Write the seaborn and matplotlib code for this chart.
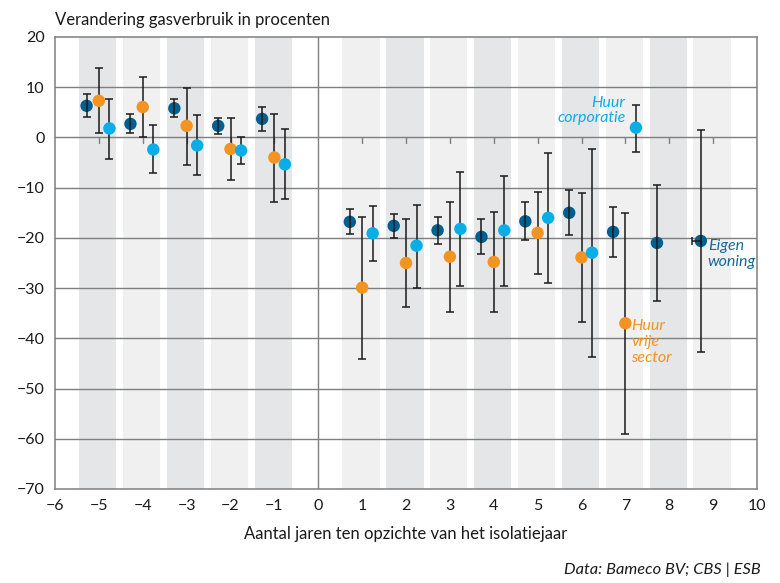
import matplotlib
matplotlib.use("Agg")
import matplotlib.pyplot as plt
import seaborn as sns
import pandas as pd

# years relative to the insulation year
years_eig = [-5, -4, -3, -2, -1, 1, 2, 3, 4, 5, 6, 7, 8, 9]
years_rent = [-5, -4, -3, -2, -1, 1, 2, 3, 4, 5, 6, 7]

# Eigen woning
eig_y = [6.3, 2.7, 5.8, 2.3, 3.7, -16.8, -17.6, -18.5, -19.8, -16.7, -15.0, -18.8, -21.0, -20.6]
eig_lo = [4.0, 0.8, 4.0, 0.6, 1.3, -19.2, -19.95, -21.2, -23.2, -20.5, -19.4, -23.8, -32.6, -42.8]
eig_hi = [8.65, 4.6, 7.65, 3.8, 6.1, -14.25, -15.2, -15.8, -16.3, -12.8, -10.5, -13.8, -9.4, 1.5]

# Huur vrije sector
vrij_y = [7.3, 6.05, 2.3, -2.3, -4.0, -29.9, -25.0, -23.75, -24.8, -19.0, -23.9, -37.0]
vrij_lo = [0.8, 0.15, -5.5, -8.5, -12.9, -44.05, -33.8, -34.7, -34.8, -27.1, -36.8, -59.1]
vrij_hi = [13.8, 12.0, 9.9, 3.9, 4.7, -15.85, -16.2, -12.8, -14.8, -10.8, -11.1, -15.0]

# Huur corporatie
corp_y = [1.8, -2.4, -1.6, -2.6, -5.35, -19.1, -21.55, -18.2, -18.5, -16.0, -22.95, 1.95]
corp_lo = [-4.2, -7.15, -7.5, -5.2, -12.3, -24.6, -29.9, -29.5, -29.5, -29.0, -43.7, -2.9]
corp_hi = [7.65, 2.5, 4.4, 0.15, 1.6, -13.65, -13.4, -6.9, -7.6, -3.0, -2.4, 6.5]

C_EIG = '#005f8f'
C_VRIJ = '#f39320'
C_CORP = '#0aaee6'
GRID = '#7f7f7f'

sns.set_style('white')
plt.rcParams['font.family'] = ['Lato', 'DejaVu Sans']

rows = []
for name, xs, ys, lo, hi, off in [
    ('Eigen woning', years_eig, eig_y, eig_lo, eig_hi, -0.28),
    ('Huur vrije sector', years_rent, vrij_y, vrij_lo, vrij_hi, 0.0),
    ('Huur corporatie', years_rent, corp_y, corp_lo, corp_hi, 0.24),
]:
    for x, y, l, h in zip(xs, ys, lo, hi):
        rows.append({'groep': name, 'x': x + off, 'y': y, 'lo': l, 'hi': h})
df = pd.DataFrame(rows)

fig = plt.figure(figsize=(7.8, 5.83), dpi=100)
ax = fig.add_axes([55 / 780, 1 - 489 / 583, 702 / 780, 452 / 583])

# alternating background bands per year
for k in list(range(-5, 0)) + list(range(1, 10)):
    dark = (k < 0 and k % 2 == 1) or (k > 0 and k % 2 == 0)
    ax.axvspan(k - 0.45, k + 0.40, color='#e5e6e8' if dark else '#f0f0f0', lw=0, zorder=0)

for v in range(-60, 20, 10):
    ax.axhline(v, color=GRID, lw=1, zorder=1)
ax.axvline(0, color=GRID, lw=1, zorder=1)
# small ticks under the zero line
for k in list(range(-5, 0)) + list(range(1, 10)):
    ax.plot([k, k], [0, -1.1], color=GRID, lw=1, zorder=1)

palette = {'Eigen woning': C_EIG, 'Huur vrije sector': C_VRIJ, 'Huur corporatie': C_CORP}
for name, grp in df.groupby('groep'):
    ax.errorbar(grp['x'], grp['y'], yerr=[grp['y'] - grp['lo'], grp['hi'] - grp['y']],
                fmt='none', ecolor='#1a1a1a', elinewidth=1.1, capsize=3, capthick=1.1,
                zorder=4 if name == 'Eigen woning' else 2)
sns.scatterplot(data=df, x='x', y='y', hue='groep', palette=palette, s=80,
                edgecolor='none', linewidth=0, legend=False, ax=ax, zorder=3)

# odd horizontal whisker at year 9
ax.errorbar([9 - 0.28], [-20.6], xerr=[[0.21], [0]], fmt='none', ecolor='#1a1a1a',
            elinewidth=1.1, capsize=3, capthick=1.1, zorder=4)

ax.set_xlim(-6, 10)
ax.set_ylim(-70, 20)
ax.set_xticks(range(-6, 11))
ax.set_yticks(range(-70, 21, 10))
ax.tick_params(axis='both', direction='out', length=4.5, width=1, color=GRID,
               labelsize=11.5, pad=3, labelcolor='#1a1a1a')
for s in ax.spines.values():
    s.set_color(GRID)
    s.set_linewidth(1.1)
ax.set_xlabel('Aantal jaren ten opzichte van het isolatiejaar', fontsize=12, color='#1a1a1a', labelpad=9)
ax.set_ylabel('')

ax.text(7.0, 2.4, 'Huur\ncorporatie', color=C_CORP, style='italic', fontsize=11.5,
        ha='right', va='bottom', linespacing=1.15)
ax.text(8.88, -20.3, 'Eigen\nwoning', color='#1a6a98', style='italic', fontsize=11.5,
        ha='left', va='top', linespacing=1.15)
ax.text(7.13, -36.2, 'Huur\nvrije\nsector', color=C_VRIJ, style='italic', fontsize=11.5,
        ha='left', va='top', linespacing=1.15)

fig.text(55 / 780, 1 - 20 / 583, 'Verandering gasverbruik in procenten', fontsize=12,
         color='#1a1a1a', ha='left', va='center')
fig.text(761 / 780, 1 - 570 / 583, 'Data: Bameco BV; CBS | ESB', fontsize=11.8,
         style='italic', color='#1a1a1a', ha='right', va='center')

fig.savefig('out.png', dpi=100)
